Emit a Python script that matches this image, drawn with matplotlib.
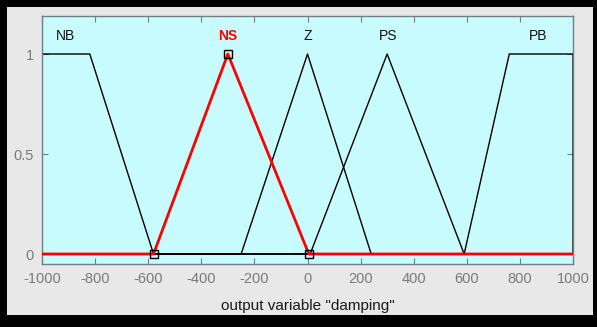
import matplotlib
matplotlib.use("Agg")
import matplotlib.pyplot as plt
from matplotlib.patches import Rectangle
import numpy as np

plt.rcParams['font.family'] = ['Liberation Sans', 'DejaVu Sans']

# membership functions of output variable "damping"
mf_names = ['NB', 'NS', 'Z', 'PS', 'PB']
mf_points = [
    [-1000, -1000, -820, -580],   # trapmf
    [-580, -300, 5],              # trimf
    [-250, 0, 240],
    [10, 300, 590],
    [590, 760, 1000, 1000],       # trapmf
]
label_x = [-910, -300, 0, 305, 870]
selected = 'NS'

x_ticks = [-1000, -800, -600, -400, -200, 0, 200, 400, 600, 800, 1000]
y_ticks = [0, 0.5, 1]


def mf_curve(pts):
    if len(pts) == 3:
        xs = [-1000, pts[0], pts[1], pts[2], 1000]
        ys = [0, 0, 1, 0, 0]
    else:
        xs = [-1000, pts[0], pts[1], pts[2], pts[3], 1000]
        ys = [0, 0, 1, 1, 0, 0]
    if pts[0] == -1000:
        xs, ys = xs[1:], ys[1:]
    if pts[-1] == 1000:
        xs, ys = xs[:-1], ys[:-1]
    return xs, ys


fig = plt.figure(figsize=(5.97, 3.27), dpi=100)
fig.patch.set_facecolor('black')
# gray window panel inside the black frame
fig.patches.append(Rectangle((7 / 597, 12 / 327), 586 / 597, 308 / 327,
                             transform=fig.transFigure, facecolor='#e8e8e8',
                             edgecolor='none', zorder=-5))

ax = fig.add_axes([42 / 597, 63 / 327, 531 / 597, 248 / 327])
ax.set_facecolor('#c8fbfd')

for name, pts in zip(mf_names, mf_points):
    xs, ys = mf_curve(pts)
    if name == selected:
        ax.plot(xs, ys, color='red', lw=2, zorder=3)
        ax.plot(pts, [0, 1, 0], ls='none', marker='s', ms=6,
                mfc='none', mec='black', mew=1, zorder=4)
    else:
        ax.plot(xs, ys, color='black', lw=1, zorder=2)

for name, lx in zip(mf_names, label_x):
    if name == selected:
        ax.text(lx, 1.09, name, color='red', fontsize=10, fontweight='bold',
                ha='center', va='center')
    else:
        ax.text(lx, 1.09, name, color='#111111', fontsize=10,
                ha='center', va='center')

ax.set_xlim(-1000, 1000)
ax.set_ylim(-0.05, 1.19)
ax.set_xticks(x_ticks)
ax.set_xticklabels([str(t) for t in x_ticks])
ax.set_yticks(y_ticks)
ax.set_yticklabels(['0', '0.5', '1'])
ax.tick_params(direction='in', top=True, right=True, length=4,
               color='#6f7f85', labelcolor='#7a7a7a', labelsize=10.5, pad=6)
for s in ax.spines.values():
    s.set_color('#6f7f85')
    s.set_linewidth(1)
ax.set_xlabel('output variable "damping"', fontsize=11, labelpad=9,
              color='#1a1a1a')

fig.savefig('out.png', dpi=100, facecolor=fig.get_facecolor())
